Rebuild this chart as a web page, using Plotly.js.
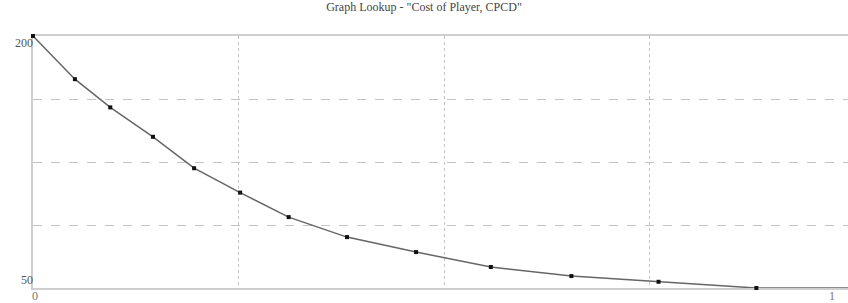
<!DOCTYPE html>
<html>
<head>
<meta charset="utf-8">
<script src="https://cdn.plot.ly/plotly-3.0.1.min.js"></script>
<style>html,body{margin:0;padding:0;background:#fff;}#chart{width:848px;height:303px;}</style>
</head>
<body>
<div id="chart"></div>
<script>
// Lookup points
const xVals = [0, 0.051, 0.094, 0.146, 0.196, 0.252, 0.311, 0.382, 0.466, 0.557, 0.655, 0.761, 0.880, 1.0];
const yVals = [200, 174.3, 157.5, 140, 121.3, 106.8, 92.2, 80.3, 71.4, 62.5, 57.1, 53.7, 50, 50];
const yTickVals = [200, 50];
const yTickText = ['200', '50'];
const xTickVals = [0, 0.97];
const xTickText = ['0', '1'];
const titleText = 'Graph Lookup - "Cost of Player, CPCD"';

const fontFam = '"Liberation Serif", "DejaVu Serif", serif';

const annotations = [];
yTickVals.forEach((v, i) => {
  annotations.push({
    xref: 'paper', yref: 'y', x: 0, y: v, xanchor: 'right', yanchor: 'middle',
    text: yTickText[i], showarrow: false, xshift: 2, yshift: i === 0 ? -7 : 8,
    font: {family: fontFam, size: 12, color: '#555'}
  });
});
xTickVals.forEach((v, i) => {
  annotations.push({
    xref: 'x', yref: 'paper', x: v, y: 0, xanchor: 'center', yanchor: 'top',
    text: xTickText[i], showarrow: false, xshift: 2, yshift: 1,
    font: {family: fontFam, size: 12, color: '#777'}
  });
});

const trace = {
  x: xVals, y: yVals, type: 'scatter', mode: 'lines+markers',
  line: {color: '#666', width: 1.5},
  marker: {symbol: 'square', size: 4, color: '#111'},
  cliponaxis: false, hoverinfo: 'x+y'
};

const layout = {
  width: 848, height: 303,
  margin: {l: 33, r: 0, t: 36, b: 15},
  paper_bgcolor: '#fff', plot_bgcolor: '#fff',
  showlegend: false,
  title: {text: titleText, x: 0.5, xanchor: 'center', y: 0.99, yanchor: 'top', yref: 'container',
          font: {family: fontFam, size: 12, color: '#444'}},
  xaxis: {range: [0, (848 - 33) / 822], dtick: 0.25, tick0: 0, showticklabels: false, ticks: '',
          showgrid: true, gridcolor: '#c4c4c4', griddash: 'dot', gridwidth: 1, layer: 'below traces',
          showline: true, linecolor: '#cfcfcf', linewidth: 2, mirror: true, zeroline: false},
  yaxis: {range: [50, 200], dtick: 37.5, tick0: 50, showticklabels: false, ticks: '',
          showgrid: true, gridcolor: '#c4c4c4', griddash: 'dash', gridwidth: 1, layer: 'below traces',
          showline: true, linecolor: '#cfcfcf', linewidth: 2, zeroline: false},
  annotations: annotations
};

Plotly.newPlot('chart', [trace], layout, {displayModeBar: false, staticPlot: true});
</script>
</body>
</html>
